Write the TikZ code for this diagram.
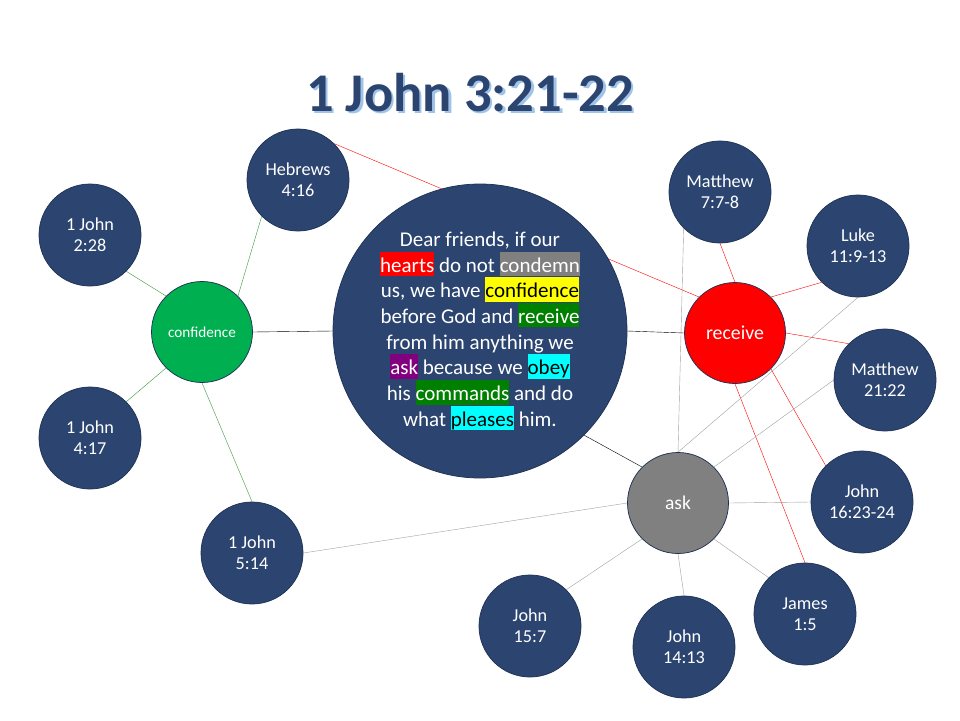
\documentclass[tikz,border=0pt]{standalone}
\usepackage{fontspec}
\setmainfont{Carlito}
\usetikzlibrary{backgrounds}
\definecolor{navy}{RGB}{44,69,112}
\definecolor{navyline}{RGB}{32,50,84}
\definecolor{shadowblue}{RGB}{160,196,232}
\definecolor{confgreen}{RGB}{0,176,80}
\definecolor{hlgreen}{RGB}{0,128,0}
\definecolor{hlpurple}{RGB}{128,0,128}
\definecolor{hlcyan}{RGB}{0,255,255}
\definecolor{hlyellow}{RGB}{255,255,0}
\definecolor{hlred}{RGB}{255,0,0}
\definecolor{hlgray}{RGB}{128,128,128}
\definecolor{linegray}{RGB}{160,160,160}
\definecolor{linegreen}{RGB}{56,150,56}
\newcommand{\hlword}[3]{{\setlength{\fboxsep}{0pt}\colorbox{#1}{\rule[-4pt]{0pt}{24.5pt}\textcolor{#2}{#3}}}}

\begin{document}
\begin{tikzpicture}[x=1pt,y=-1pt,
		verse/.style={circle, draw=navyline, fill=navy, line width=0.75pt, minimum size=102pt, inner sep=0pt, align=center, text=white, font=\fontsize{18.2}{21}\selectfont},
		theme/.style={circle, draw=navyline, line width=0.75pt, minimum size=101pt, inner sep=0pt, text=white},
		titletext/.style={anchor=base, font=\fontsize{54.5}{60}\selectfont\bfseries}]
			\useasboundingbox (0,0) rectangle (960,720);
			
			\node[titletext, text=shadowblue] (titleshadow) at (472.5,113.5) {1 John 3:21-22};
			\node[titletext, text=navy] (title) at (470,111) {1 John 3:21-22};
			
			\node[circle, draw=navyline, fill=navy, line width=0.75pt, minimum size=294pt, inner sep=0pt, align=center, text=white, font=\fontsize{21}{25.7}\selectfont] (verse) at (480,331)
			{Dear friends, if our\\
			\hlword{hlred}{white}{hearts} do not \hlword{hlgray}{white}{condemn}\\
			us, we have \hlword{hlyellow}{black}{confidence}\\
			before God and \hlword{hlgreen}{white}{receive}\\
			from him anything we\\
			\hlword{hlpurple}{white}{ask} because we \hlword{hlcyan}{black}{obey}\\
			his \hlword{hlgreen}{white}{commands} and do\\
			what \hlword{hlcyan}{black}{pleases} him.};
			
			\node[theme, fill=confgreen, font=\fontsize{15.2}{18}\selectfont] (confidence) at (202,332) {confidence};
			\node[theme, fill=red, font=\fontsize{19.8}{23}\selectfont] (receive) at (735,333) {receive};
			\node[theme, fill=gray, font=\fontsize{19.5}{23}\selectfont] (ask) at (678,503) {ask};
			
			\node[verse] (heb416) at (298,180) {Hebrews\\4:16};
			\node[verse] (john228) at (90,235) {1 John\\2:28};
			\node[verse] (john417) at (90,438) {1 John\\4:17};
			\node[verse] (john514) at (252,553) {1 John\\5:14};
			\node[verse] (matt7) at (720,192) {Matthew\\7:7-8};
			\node[verse] (luke11) at (858,246) {Luke\\11:9-13};
			\node[verse] (matt21) at (885,380) {Matthew\\21:22};
			\node[verse] (john16) at (862,502) {John\\16:23-24};
			\node[verse] (john157) at (530,626) {John\\15:7};
			\node[verse] (john1413) at (684,647) {John\\14:13};
			\node[verse] (james15) at (805,614) {James\\1:5};
			
			\begin{scope}[on background layer, line width=1.3pt]
				\draw[black] (verse.west) -- (confidence.east);
				\draw[black] (verse.east) -- (receive.west);
				\draw[black] (verse.south east) -- (ask.north west);
				
				\draw[linegreen] (confidence.north east) -- (heb416.south west);
				\draw[linegreen] (confidence.north west) -- (john228.south east);
				\draw[linegreen] (confidence.south west) -- (john417.north east);
				\draw[linegreen] (confidence.south) -- (john514.north);
				
				\draw[red] (heb416.north east) -- (receive.north west);
				\draw[red] (receive.north) -- (matt7.south);
				\draw[red] (receive.north east) -- (luke11.south west);
				\draw[red] (receive.east) -- (matt21.north west);
				\draw[red] (receive.south east) -- (john16.north west);
				\draw[red] (receive.south) -- (james15.north);
				
				\draw[linegray] (ask.north) -- (matt7.south west);
				\draw[linegray] (ask.north) -- (luke11.south);
				\draw[linegray] (ask.north east) -- (matt21.west);
				\draw[linegray] (ask.east) -- (john16.west);
				\draw[linegray] (ask.west) -- (john514.east);
				\draw[linegray] (ask.south west) -- (john157.north east);
				\draw[linegray] (ask.south) -- (john1413.north);
				\draw[linegray] (ask.south east) -- (james15.north west);
			\end{scope}
		\end{tikzpicture}
\end{document}
